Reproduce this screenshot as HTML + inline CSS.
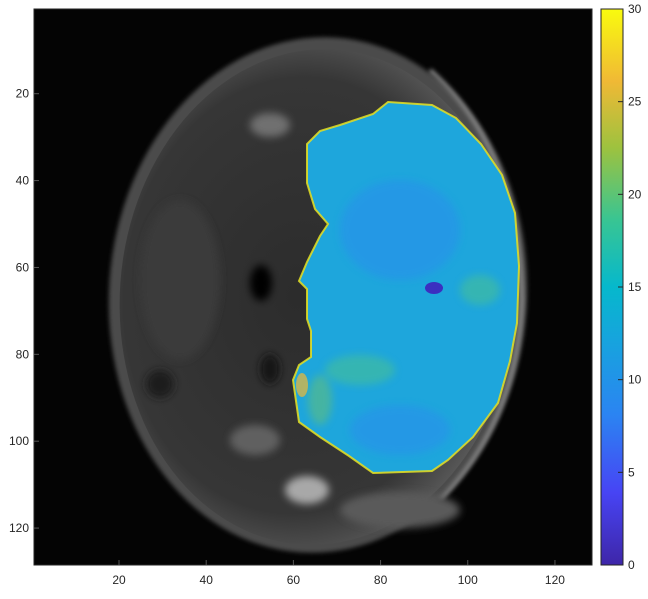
<!DOCTYPE html>
<html><head><meta charset="utf-8"><style>
body{margin:0;background:#fff;width:648px;height:594px;overflow:hidden;font-family:"Liberation Sans",sans-serif}
svg text{font-family:"Liberation Sans",sans-serif;font-size:12px;fill:#262626}
</style></head><body>
<svg id="chart" width="648" height="594">
<defs>
<linearGradient id="parula" x1="0" y1="1" x2="0" y2="0">
<stop offset="0" stop-color="#3e26a8"/><stop offset="0.13" stop-color="#4744f4"/>
<stop offset="0.27" stop-color="#2b84f2"/><stop offset="0.4" stop-color="#17a3de"/>
<stop offset="0.5" stop-color="#06b8cc"/><stop offset="0.62" stop-color="#38c593"/>
<stop offset="0.75" stop-color="#9dc23f"/><stop offset="0.87" stop-color="#f0b935"/>
<stop offset="1" stop-color="#f9fb0e"/></linearGradient>
<radialGradient id="headg" cx="0.45" cy="0.5" r="0.55">
<stop offset="0" stop-color="#2c2c2c"/><stop offset="0.8" stop-color="#363636"/><stop offset="1" stop-color="#5a5a5a"/></radialGradient>
<filter id="blur"><feGaussianBlur stdDeviation="4"/></filter>
<filter id="blur2"><feGaussianBlur stdDeviation="2"/></filter>
</defs>
<rect x="34" y="9" width="558" height="556" fill="#040404"/>
<g>
<ellipse cx="318" cy="295" rx="209" ry="258" fill="#4c4c4c" transform="rotate(4 318 295)" filter="url(#blur2)"/>
<ellipse cx="318" cy="297" rx="198" ry="248" fill="url(#headg)" transform="rotate(4 318 295)"/>
<path d="M430,70 Q520,150 522,300 Q518,420 440,500" stroke="#8a8a8a" stroke-width="4" fill="none" filter="url(#blur2)"/>
<g filter="url(#blur)">
<ellipse cx="261" cy="283" rx="11" ry="18" fill="#050505"/>
<ellipse cx="270" cy="369" rx="10" ry="15" fill="#151515"/>
<ellipse cx="160" cy="384" rx="14" ry="14" fill="#1e1e1e"/>
<ellipse cx="307" cy="490" rx="22" ry="14" fill="#a8a8a8"/>
<ellipse cx="255" cy="440" rx="25" ry="15" fill="#606060"/>
<ellipse cx="270" cy="125" rx="20" ry="12" fill="#707070"/>
<ellipse cx="400" cy="510" rx="60" ry="18" fill="#5a5a5a"/>
<ellipse cx="180" cy="280" rx="40" ry="80" fill="#3a3a3a"/>
</g>
</g>
<path id="overlay" fill="#1ea6dc" stroke="#e8e020" stroke-width="2" stroke-opacity="0.85"
d="M388,102 L432,105 456,118 481,144 502,175 515,213 519,266 517,323 510,361 498,403 473,437 448,460 432,471 373,473 349,456 320,437 299,422 293,380 299,365 311,357 311,331 307,319 307,289 299,281 307,262 320,236 328,224 315,209 307,183 307,144 320,131 340,125 373,114 Z"/>
<g opacity="0.5" filter="url(#blur)">
<ellipse cx="400" cy="230" rx="60" ry="50" fill="#2b8cee"/>
<ellipse cx="400" cy="430" rx="50" ry="25" fill="#2b8cee"/>
<ellipse cx="360" cy="370" rx="35" ry="15" fill="#4ec48a"/>
<ellipse cx="480" cy="290" rx="20" ry="15" fill="#4ec48a"/>
<ellipse cx="320" cy="400" rx="12" ry="25" fill="#6cc26a"/>
</g>
<ellipse cx="434" cy="288" rx="9" ry="6" fill="#3b2fc0"/>
<ellipse cx="302" cy="385" rx="6" ry="12" fill="#f0b935" opacity="0.7"/>
<rect x="34" y="9" width="558" height="556" fill="none" stroke="#262626" stroke-width="1"/>
<g id="xticks"></g>
<g id="yticks"></g>
<rect x="601" y="9" width="22" height="556" fill="url(#parula)" stroke="#262626"/>
<g id="cticks"></g>
</svg>
<script>
const xTicks=[20,40,60,80,100,120];
const yTicks=[20,40,60,80,100,120];
const cTicks=[0,5,10,15,20,25,30];
const NS='http://www.w3.org/2000/svg';
const X=v=>34+(v-0.5)*558/128, Y=v=>9+(v-0.5)*556/128, C=v=>565-v*556/30;
function mk(tag,attrs,parent){const e=document.createElementNS(NS,tag);for(const k in attrs)e.setAttribute(k,attrs[k]);parent.appendChild(e);return e;}
const xg=document.getElementById('xticks'),yg=document.getElementById('yticks'),cg=document.getElementById('cticks');
xTicks.forEach(v=>{
 const l=mk('line',{x1:X(v),x2:X(v),y1:565,y2:560,stroke:'#555'},xg);
 
 
 const t=mk('text',{x:X(v),y:584,'text-anchor':'middle'},xg);t.textContent=v;
 
 
});
yTicks.forEach(v=>{
 const l=mk('line',{x1:34,x2:39,y1:Y(v),y2:Y(v),stroke:'#555'},yg);
 
 
 const t=mk('text',{x:29,y:Y(v)+4,'text-anchor':'end'},yg);t.textContent=v;
 
 
});
cTicks.forEach(v=>{
 const l=mk('line',{x1:618,x2:623,y1:C(v),y2:C(v),stroke:'#262626'},cg);
 
 
 const t=mk('text',{x:628,y:C(v)+4},cg);t.textContent=v;
 
 
});
</script>
</body></html>
